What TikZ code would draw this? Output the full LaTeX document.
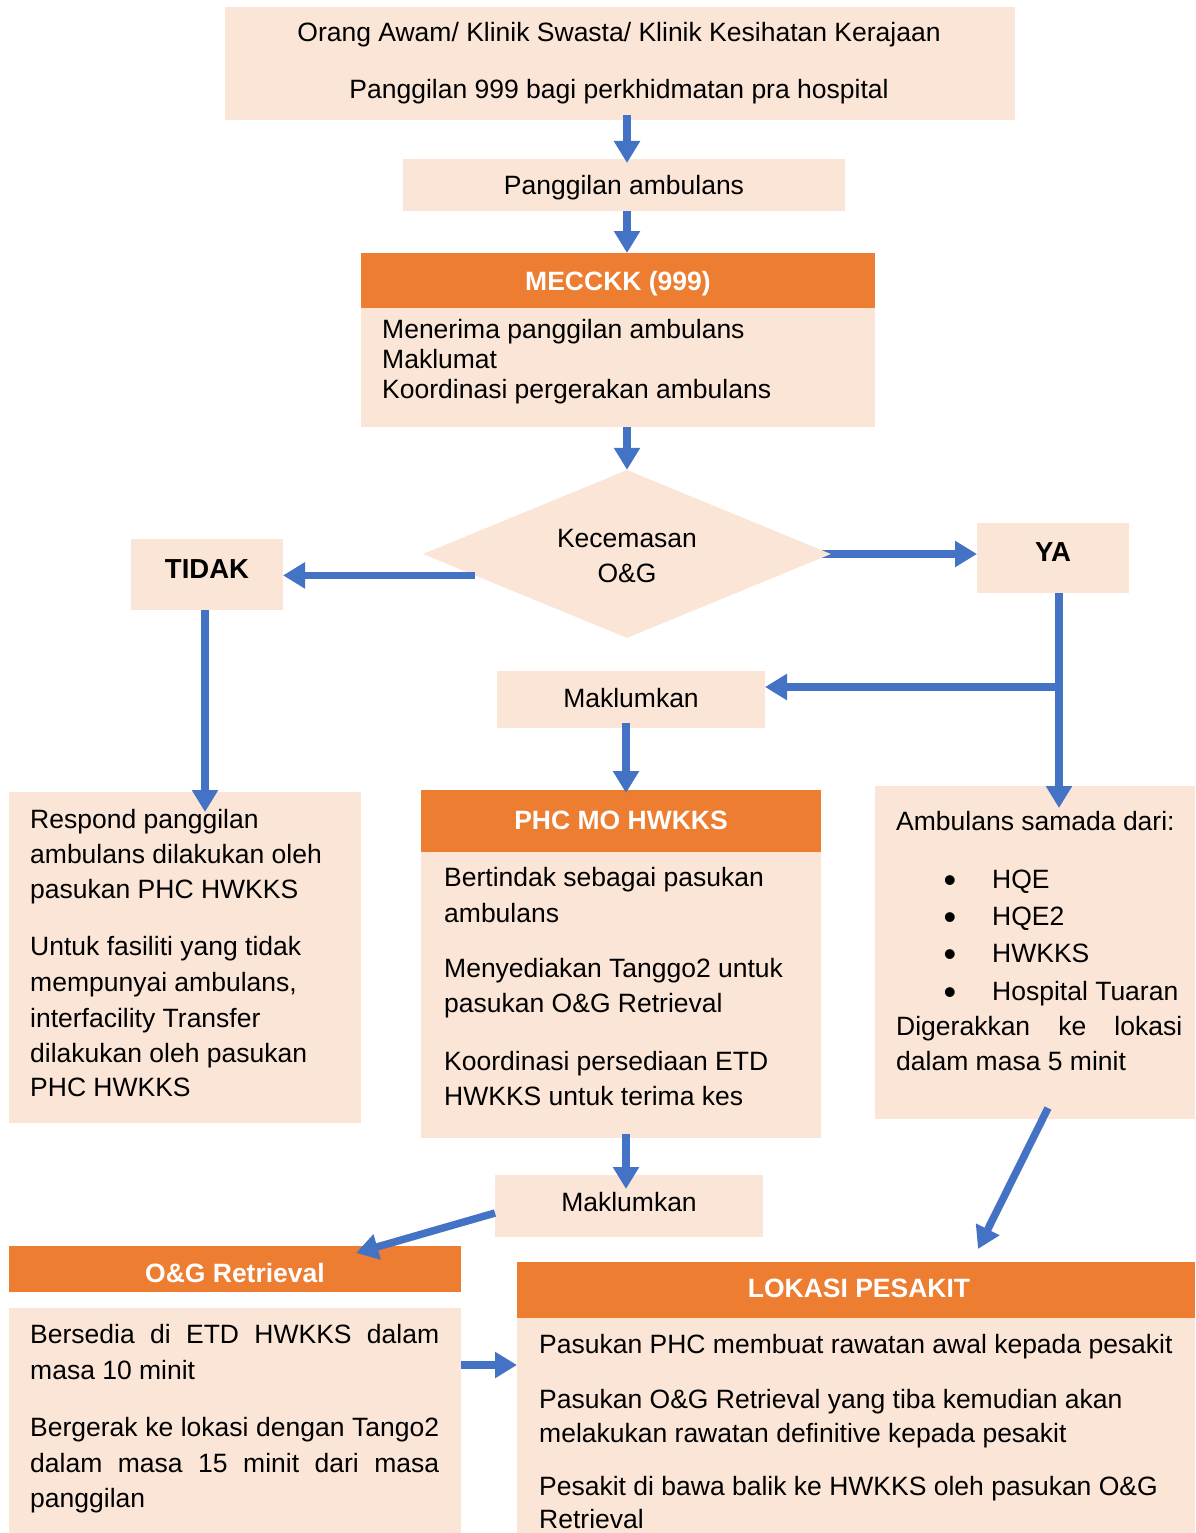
\documentclass[tikz,border=0pt]{standalone}
\usepackage{fontspec}
\setmainfont{Liberation Sans}
\usetikzlibrary{arrows.meta,shapes.geometric}
\definecolor{peach}{HTML}{FBE5D6}
\definecolor{hdr}{HTML}{ED7D31}
\definecolor{flowblue}{HTML}{4472C4}
\newcommand\fs{\fontsize{26.5}{32}\selectfont}
\newcommand\fsb{\fontsize{27.5}{32}\selectfont\bfseries}
\newcommand\fsdot{\fontsize{36}{32}\selectfont}
\begin{document}
\begin{tikzpicture}[x=1pt,y=-1pt,
  box/.style={fill=peach,draw=none,inner sep=0pt,outer sep=0pt,anchor=north west},
  head/.style={box,fill=hdr},
  txt/.style={font=\fs,inner sep=0pt,anchor=base west,text=black},
  ctxt/.style={txt,anchor=base},
  dot/.style={font=\fsdot,inner sep=0pt,anchor=base,text=black},
  htxt/.style={font=\fs\bfseries,inner sep=0pt,anchor=base,text=white},
  decide/.style={diamond,inner sep=0pt,minimum width=408pt,minimum height=168pt},
  arr/.style={draw=flowblue,line width=7.5pt,-{Triangle[width=25pt,length=22pt]}}]
\useasboundingbox (0,0) rectangle (1195,1533);

% ---------- boxes ----------
\node[box,minimum width=790pt,minimum height=113pt] (b1) at (225,7) {};
\node[box,minimum width=442pt,minimum height=52pt] (b2) at (403,159) {};
\node[head,minimum width=514pt,minimum height=55pt] (mh) at (361,253) {};
\node[box,minimum width=514pt,minimum height=119pt] (mb) at (361,308) {};
\node[box,minimum width=152pt,minimum height=71pt] (tidak) at (131,539) {};
\node[box,minimum width=152pt,minimum height=70pt] (ya) at (977,523) {};
\node[box,minimum width=268pt,minimum height=57pt] (mk1) at (497,671) {};
\node[head,minimum width=400pt,minimum height=62pt] (ph) at (421,790) {};
\node[box,minimum width=400pt,minimum height=286pt] (pb) at (421,852) {};
\node[box,minimum width=320pt,minimum height=333pt] (amb) at (875,786) {};
\node[box,minimum width=352pt,minimum height=331pt] (resp) at (9,792) {};
\node[box,minimum width=268pt,minimum height=62pt] (mk2) at (495,1175) {};
\node[head,minimum width=452pt,minimum height=46pt] (oh) at (9,1246) {};
\node[box,minimum width=452pt,minimum height=225pt] (ob) at (9,1308) {};
\node[head,minimum width=678pt,minimum height=56pt] (lh) at (517,1262) {};
\node[box,minimum width=678pt,minimum height=215pt] (lb) at (517,1318) {};

\coordinate (xa) at (627,0);
\coordinate (xt) at (205,0);
\coordinate (xy) at (1059,0);
\coordinate (xm) at (626,0);
\coordinate (br) at (1059,687);
\coordinate (yo) at (0,1365);

% the YA arrow starts underneath the diamond's right tip
\node[decide,draw=none] (dia) at (627,554) {};
\draw[arr,shorten <=-11pt] (dia.east) -- (dia.east -| ya.west);
\node[decide,fill=peach] (diafill) at (dia) {};

% ---------- texts ----------
\node[ctxt] (t1a) at (619,42) {Orang Awam/ Klinik Swasta/ Klinik Kesihatan Kerajaan};
\node[ctxt] (t1b) at (619,99) {Panggilan 999 bagi perkhidmatan pra hospital};
\node[ctxt] (t2) at (624,195) {Panggilan ambulans};

\node[htxt] (tmh) at (618,290) {MECCKK (999)};
\node[txt] (tm1) at (382,338) {Menerima panggilan ambulans};
\node[txt] (tm2) at (382,368) {Maklumat};
\node[txt] (tm3) at (382,398) {Koordinasi pergerakan ambulans};

\node[ctxt] (td1) at (627,547) {Kecemasan};
\node[ctxt] (td2) at (627,582) {O\&G};

\node[ctxt,font=\fsb] (ttd) at (207,578) {TIDAK};
\node[ctxt,font=\fsb] (tya) at (1053,561) {YA};
\node[ctxt] (tk1) at (631,707) {Maklumkan};

\node[htxt] (tph) at (621,829) {PHC MO HWKKS};
\node[txt] (tp1) at (444,886) {Bertindak sebagai pasukan};
\node[txt] (tp2) at (444,922) {ambulans};
\node[txt] (tp3) at (444,977) {Menyediakan Tanggo2 untuk};
\node[txt] (tp4) at (444,1012) {pasukan O\&G Retrieval};
\node[txt] (tp5) at (444,1070) {Koordinasi persediaan ETD};
\node[txt] (tp6) at (444,1105) {HWKKS untuk terima kes};

\node[txt] (tr1) at (30,828) {Respond panggilan};
\node[txt] (tr2) at (30,863) {ambulans dilakukan oleh};
\node[txt] (tr3) at (30,898) {pasukan PHC HWKKS};
\node[txt] (tr4) at (30,955) {Untuk fasiliti yang tidak};
\node[txt] (tr5) at (30,991) {mempunyai ambulans,};
\node[txt] (tr6) at (30,1027) {interfacility Transfer};
\node[txt] (tr7) at (30,1062) {dilakukan oleh pasukan};
\node[txt] (tr8) at (30,1096) {PHC HWKKS};

\node[txt] (ta0) at (896,830) {Ambulans samada dari:};
\node[dot] (tb1) at (950,892) {•};
\node[dot] (tb2) at (950,929) {•};
\node[dot] (tb3) at (950,966) {•};
\node[dot] (tb4) at (950,1004) {•};
\node[txt] (ta1) at (992,888) {HQE};
\node[txt] (ta2) at (992,925) {HQE2};
\node[txt] (ta3) at (992,962) {HWKKS};
\node[txt] (ta4) at (992,1000) {Hospital Tuaran};
\node[txt] (ta5) at (896,1035) {\makebox[286pt][s]{Digerakkan ke lokasi}};
\node[txt] (ta6) at (896,1070) {dalam masa 5 minit};

\node[ctxt] (tk2) at (629,1211) {Maklumkan};

\node[htxt] (toh) at (235,1282) {O\&G Retrieval};
\node[txt] (to1) at (30,1343) {\makebox[409pt][s]{Bersedia di ETD HWKKS dalam}};
\node[txt] (to2) at (30,1379) {masa 10 minit};
\node[txt] (to3) at (30,1436) {\makebox[409pt][s]{Bergerak ke lokasi dengan Tango2}};
\node[txt] (to4) at (30,1472) {\makebox[409pt][s]{dalam masa 15 minit dari masa}};
\node[txt] (to5) at (30,1507) {panggilan};

\node[htxt] (tlh) at (859,1297) {LOKASI PESAKIT};
\node[txt] (tl1) at (539,1353) {Pasukan PHC membuat rawatan awal kepada pesakit};
\node[txt] (tl2) at (539,1408) {Pasukan O\&G Retrieval yang tiba kemudian akan};
\node[txt] (tl3) at (539,1442) {melakukan rawatan definitive kepada pesakit};
\node[txt] (tl4) at (539,1495) {Pesakit di bawa balik ke HWKKS oleh pasukan O\&G};
\node[txt] (tl5) at (539,1528) {Retrieval};

% ---------- connectors ----------
\draw[arr,shorten <=-5pt,shorten >=-4pt] (b1.south -| xa) -- (b2.north -| xa);
\draw[arr] (b2.south -| xa) -- (mh.north -| xa);
\draw[arr] (mb.south -| xa) -- (dia.north);
\draw[arr] (dia.188.4) -- (dia.188.4 -| tidak.east);
\draw[arr] (tidak.south -| xt) -- ([yshift=-20pt]resp.north -| xt);
\draw[arr] (ya.south -| xy) -- ([yshift=-22pt]amb.north -| xy);
\draw[arr,shorten <=-3.75pt] (br) -- (br -| mk1.east);
\draw[arr,shorten <=-5pt,shorten >=-3pt] (mk1.south -| xm) -- (ph.north -| xm);
\draw[arr,shorten <=-4pt] (pb.south -| xm) -- ([yshift=-14pt]mk2.north -| xm);
\draw[arr] ([yshift=-7pt]mk2.west) -- ([shift={(121pt,-7pt)}]oh.north);
\draw[arr] (ob.east |- yo) -- (lb.west |- yo);
\draw[arr] ([shift={(13pt,11pt)}]amb.south) -- ([shift={(122pt,13pt)}]lh.north);
\end{tikzpicture}
\end{document}
